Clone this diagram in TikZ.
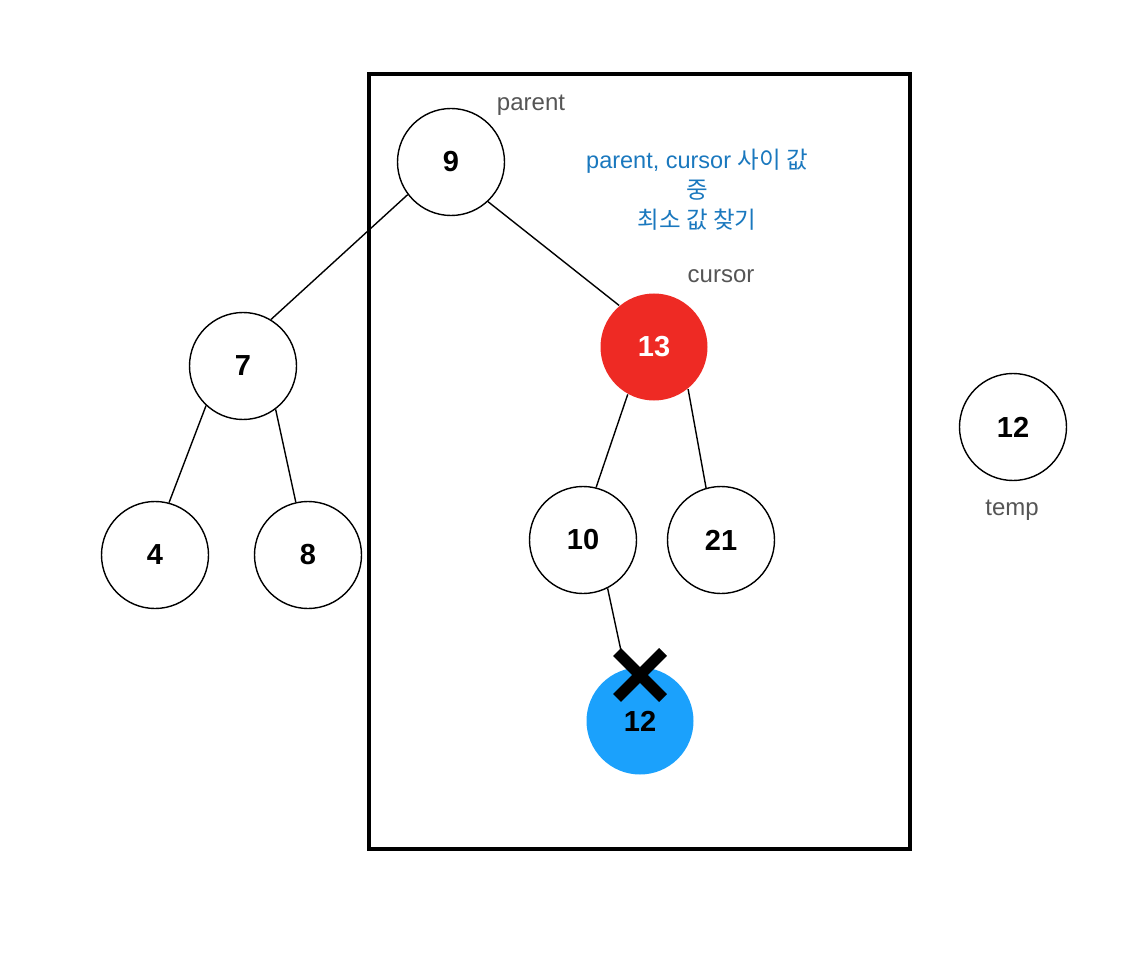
\documentclass[tikz,border=0pt]{standalone}
\usepackage{fontspec}
\setmainfont{Liberation Sans}
\newfontfamily\kor{Noto Sans CJK KR}
\definecolor{nodered}{HTML}{EE2A24}
\definecolor{nodeblue}{HTML}{1BA1FC}
\definecolor{txtblue}{HTML}{1A78BE}
\definecolor{lblgray}{HTML}{555555}
\begin{document}
\begin{tikzpicture}[x=1pt,y=-1pt,
  bnode/.style={circle,draw=black,line width=1.4pt,fill=white,minimum size=107pt,inner sep=0pt,font=\fontsize{29}{34}\selectfont\bfseries},
  rnode/.style={bnode,draw=none,fill=nodered,text=white},
  blnode/.style={bnode,draw=none,fill=nodeblue},
  lbl/.style={text=lblgray,font=\fontsize{24}{28}\selectfont,inner sep=0pt},
  edge/.style={line width=1.4pt}]
\useasboundingbox (0,0) rectangle (1138,968);
\draw[line width=3.5pt] (369,74) rectangle (910,849);
\node[bnode] (n9) at (451,162) {9};
\node[bnode] (n7) at (243,366) {7};
\node[bnode] (n4) at (155,555) {4};
\node[bnode] (n8) at (308,555) {8};
\node[rnode] (n13) at (654,347) {13};
\node[bnode] (n10) at (583,540) {10};
\node[bnode] (n21) at (721,540) {21};
\node[blnode] (n12) at (640,721) {12};
\node[bnode] (temp) at (1013,427) {12};
\draw[edge] (n9.217) -- (n7.59);
\draw[edge] (n9.313) -- (n13.130);
\draw[edge] (n7.227) -- (n4.75);
\draw[edge] (n7.307) -- (n8.103);
\draw[edge] (n13.241) -- (n10.76);
\draw[edge] (n13.309) -- (n21.106);
\coordinate (xc) at (640,675);
\coordinate (xend) at (623,660);
\draw[edge] (n10.297) -- (xend);
\draw[line width=11pt] ([shift={(-23,-23)}]xc) -- ([shift={(23,23)}]xc);
\draw[line width=11pt] ([shift={(23,-23)}]xc) -- ([shift={(-23,23)}]xc);
\node[lbl] (lparent) at (531,105) {parent};
\node[lbl] (lcursor) at (721,276) {cursor};
\node[lbl] (ltemp) at (1012,510) {temp};
\node[text=txtblue,font=\fontsize{23.5}{30}\selectfont,align=center,inner sep=0pt] (note) at (697,190) {parent, cursor {\kor 사이 값}\\{\kor 중}\\{\kor 최소 값 찾기}};
\end{tikzpicture}
\end{document}
